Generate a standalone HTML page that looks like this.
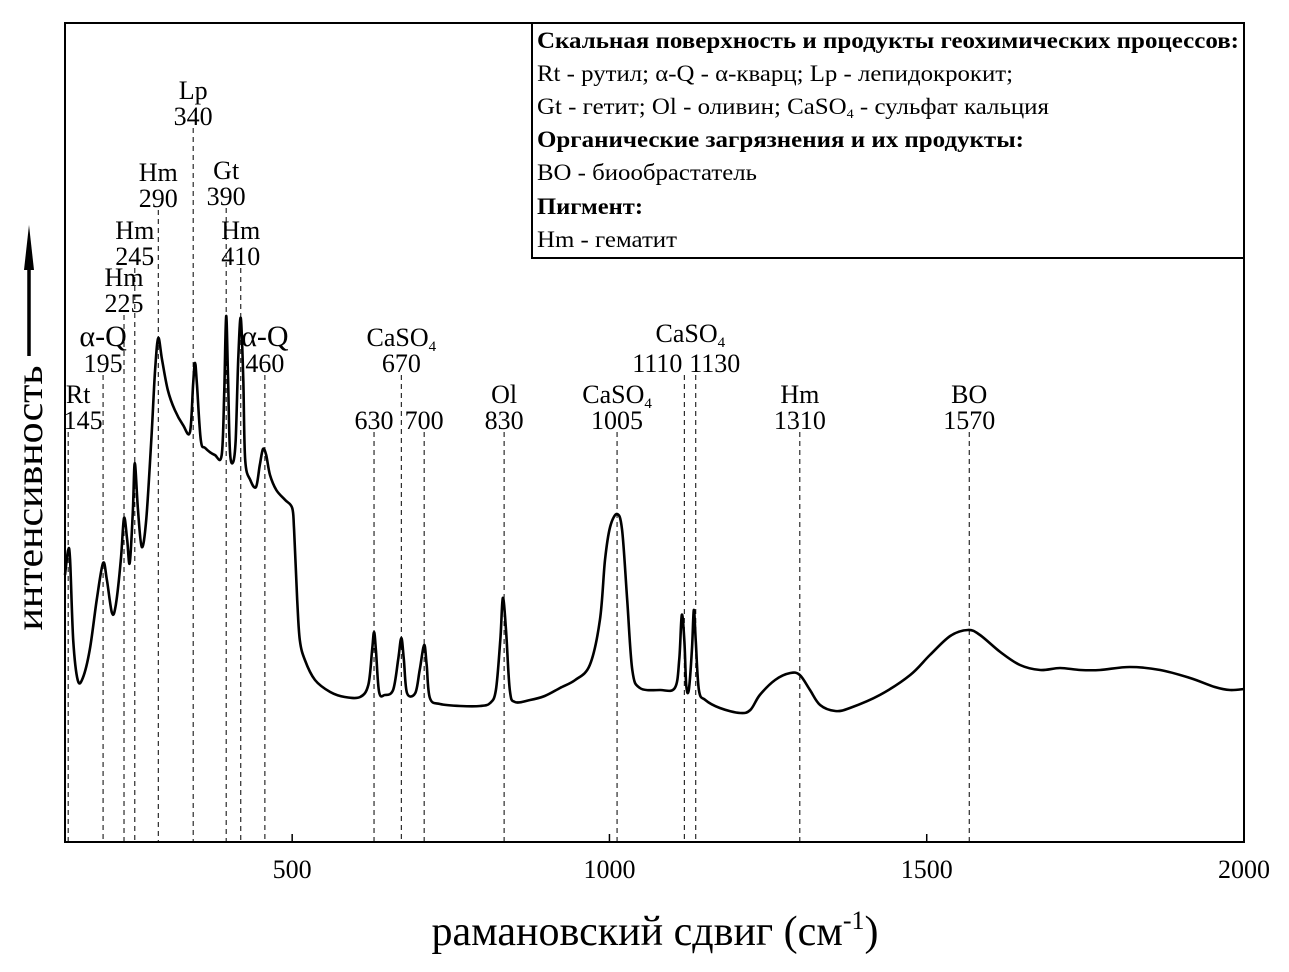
<!DOCTYPE html>
<html><head><meta charset="utf-8"><style>
html,body{margin:0;padding:0;background:#fff;}
svg{display:block;font-family:"Liberation Serif",serif;}
</style></head><body>
<svg id="chart" width="1289" height="972" viewBox="0 0 1289 972" xmlns="http://www.w3.org/2000/svg">
<g id="markers"></g>
<path id="spectrum" fill="none" stroke="#000" stroke-width="2.6" stroke-linejoin="round"/>
<rect x="65" y="23" width="1179" height="819" fill="none" stroke="#000" stroke-width="2"/>
<g id="xticks" font-size="26" text-anchor="middle"></g>
<text x="655" y="945" font-size="42" text-anchor="middle">рамановский сдвиг (см<tspan dy="-16" font-size="26">-1</tspan><tspan dy="16">)</tspan></text>
<g>
<text x="42" y="498" font-size="38" text-anchor="middle" textLength="265" lengthAdjust="spacingAndGlyphs" transform="rotate(-90 42 498)">интенсивность</text>
<line x1="29" y1="356" x2="29" y2="262" stroke="#000" stroke-width="3.5"/>
<polygon points="29,225 24,270 34,270" fill="#000"/>
</g>
<g font-size="23">
<rect x="532" y="23" width="712" height="235" fill="#fff" stroke="#000" stroke-width="2"/>
<text x="537" y="48" font-weight="bold" textLength="702" lengthAdjust="spacingAndGlyphs">Скальная поверхность и продукты геохимических процессов:</text>
<text x="537" y="81" textLength="476" lengthAdjust="spacingAndGlyphs">Rt - рутил; α-Q - α-кварц; Lp - лепидокрокит;</text>
<text x="537" y="114" textLength="512" lengthAdjust="spacingAndGlyphs">Gt - гетит; Ol - оливин; CaSO<tspan font-size="13" dy="4">4</tspan><tspan dy="-4"> - сульфат кальция</tspan></text>
<text x="537" y="147" font-weight="bold" textLength="487" lengthAdjust="spacingAndGlyphs">Органические загрязнения и их продукты:</text>
<text x="537" y="180" textLength="220" lengthAdjust="spacingAndGlyphs">BO - биообрастатель</text>
<text x="537" y="214" font-weight="bold" textLength="106" lengthAdjust="spacingAndGlyphs">Пигмент:</text>
<text x="537" y="247" textLength="140" lengthAdjust="spacingAndGlyphs">Hm - гематит</text>
</g>
</svg>
<script>
const waveNumbers=[142,147,150,155,162,170,181,192,202,208,216,222,230,235,240,244,249,252,257,263,270,278,284,289,295,304,315,328,339,344,347,350,356,363,378,389,393,396,399,402,407,411,415,419,423,426,434,443,449,454,459,465,475,489,500,503,508,512,520,536,560,583,607,620,626,629,632,637,646,659,667,672,676,681,694,701,708,712,717,733,765,796,812,821,828,832,837,843,851,875,898,922,946,969,985,993,1001,1012,1020,1028,1036,1048,1080,1103,1110,1114,1118,1121,1125,1130,1133,1136,1141,1151,1174,1206,1222,1237,1261,1285,1300,1316,1332,1356,1379,1426,1474,1505,1537,1565,1584,1616,1647,1679,1710,1742,1773,1820,1868,1915,1954,1978,2000];
const intensities=[267,292,282,202,162,164,192,242,279,262,229,237,282,324,302,279,332,379,332,295,322,402,472,504,482,452,432,417,410,459,479,457,402,394,387,387,452,526,462,390,380,402,482,524,462,382,362,355,377,393,387,367,352,342,334,312,242,202,182,162,150,145,145,157,192,210,192,150,147,152,182,204,182,149,149,172,197,177,144,138,136,136,139,152,202,244,212,152,140,142,146,154,162,177,222,282,315,328,312,242,172,154,152,154,182,227,202,157,152,192,232,202,152,142,134,129,132,147,162,169,167,152,137,131,134,147,167,187,206,212,207,190,177,172,174,172,172,175,172,164,155,152,153];
const markerWave=[147,202,235,252,289,344,396,419,457,629,672,708,834,1012,1118,1136,1300,1567];
const markerTop=[432,375,315,268,210,128,208,268,375,432,375,432,432,432,375,375,432,432];
const peakNames=["Rt","α-Q","Hm","Hm","Hm","Lp","Gt","Hm","α-Q","","CaSO4","","Ol","CaSO4","CaSO4","","Hm","BO"];
const peakNums=["145","195","225","245","290","340","390","410","460","630","670","700","830","1005","1110","1130","1310","1570"];
const xTicks=[500,1000,1500,2000];
const X0=65,X1=1244,Y0=842,Y1=23,XMIN=142,XMAX=2000,YMAX=819;
const sx=v=>X0+(v-XMIN)/(XMAX-XMIN)*(X1-X0);
const sy=v=>Y0-v/YMAX*(Y0-Y1);
const NS="http://www.w3.org/2000/svg";
const P=waveNumbers.map((w,i)=>[sx(w),sy(intensities[i])]);
let d="M"+P[0][0].toFixed(1)+","+P[0][1].toFixed(1);
for(let i=0;i<P.length-1;i++){
 const p0=P[Math.max(0,i-1)],p1=P[i],p2=P[i+1],p3=P[Math.min(P.length-1,i+2)];
 const c1=[p1[0]+(p2[0]-p0[0])/6,p1[1]+(p2[1]-p0[1])/6];
 const c2=[p2[0]-(p3[0]-p1[0])/6,p2[1]-(p3[1]-p1[1])/6];
 d+="C"+c1[0].toFixed(1)+","+c1[1].toFixed(1)+" "+c2[0].toFixed(1)+","+c2[1].toFixed(1)+" "+p2[0].toFixed(1)+","+p2[1].toFixed(1);
}
document.getElementById("spectrum").setAttribute("d",d);
const xt=document.getElementById("xticks");
xTicks.forEach(t=>{
 const l=document.createElementNS(NS,"line");
 l.setAttribute("x1",sx(t));l.setAttribute("x2",sx(t));l.setAttribute("y1",842);l.setAttribute("y2",834);l.setAttribute("stroke","#000");l.setAttribute("stroke-width","1.5");
 
 
 xt.appendChild(l);
 const tx=document.createElementNS(NS,"text");
 tx.setAttribute("x",sx(t));tx.setAttribute("y",878);tx.textContent=t;
 
 
 xt.appendChild(tx);
});
const mg=document.getElementById("markers");
function addText(x,y,txt,size){
 const t=document.createElementNS(NS,"text");
 t.setAttribute("x",x);t.setAttribute("y",y);t.setAttribute("text-anchor","middle");t.setAttribute("font-size",size);
 if(txt==="CaSO4"){t.innerHTML='CaSO<tspan font-size="15" dy="5">4</tspan>';}else t.textContent=txt;
 
 
 mg.appendChild(t);
}
for(let i=0;i<markerWave.length;i++){
 const x=sx(markerWave[i]);
 const l=document.createElementNS(NS,"line");
 l.setAttribute("x1",x);l.setAttribute("x2",x);l.setAttribute("y1",markerTop[i]);l.setAttribute("y2",842);
 l.setAttribute("stroke","#000");l.setAttribute("stroke-width","1");l.setAttribute("stroke-dasharray","5,4");
 
 
 mg.appendChild(l);
 const top=markerTop[i];
 let nx=x;
 if(peakNums[i]==="145") nx=x+15;
 if(peakNums[i]==="1110") nx=x-27;
 if(peakNums[i]==="1130") nx=x+19;
 addText(nx,top-3,peakNums[i],26);
 if(peakNames[i]){
  const big=peakNames[i]==="α-Q";
  let px=nx;
  if(peakNums[i]==="145") px=x+10;
  let py=top-29;
  if(peakNums[i]==="1110"){px=x+6;py=top-33;}
  addText(px,py,peakNames[i],big?30:26);
 }
}
</script>
</body></html>
